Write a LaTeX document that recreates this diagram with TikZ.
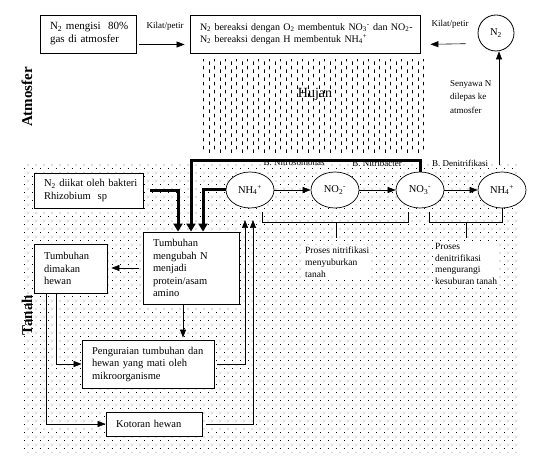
\documentclass[tikz,border=0pt]{standalone}
\usepackage{fontspec}
\setmainfont{Liberation Serif}
\usetikzlibrary{arrows.meta,patterns,shapes.geometric,calc}
\pgfdeclarepatternformonly{sdots}{\pgfqpoint{0pt}{0pt}}{\pgfqpoint{8pt}{8pt}}{\pgfqpoint{8pt}{8pt}}{%
 \pgfpathrectangle{\pgfqpoint{0pt}{0pt}}{\pgfqpoint{1pt}{1pt}}%
 \pgfpathrectangle{\pgfqpoint{4pt}{4pt}}{\pgfqpoint{1pt}{1pt}}%
 \pgfusepath{fill}}
\pgfdeclarepatternformonly{vdash}{\pgfqpoint{0pt}{0pt}}{\pgfqpoint{11pt}{8pt}}{\pgfqpoint{11pt}{8pt}}{%
 \pgfpathrectangle{\pgfqpoint{0pt}{0pt}}{\pgfqpoint{1pt}{4pt}}%
 \pgfpathrectangle{\pgfqpoint{5.5pt}{4pt}}{\pgfqpoint{1pt}{4pt}}%
 \pgfusepath{fill}}
\tikzset{
 box/.style={draw, line width=0.8pt, fill=white, inner xsep=10pt, inner ysep=2pt, align=left,
   font=\fontsize{10.5}{12.5}\selectfont},
 ell/.style={draw, ellipse, line width=0.7pt, minimum width=48pt, minimum height=36pt, fill=white,
   inner sep=0pt, font=\fontsize{10.5}{12}\selectfont},
 arr/.style={-{Triangle[length=8pt,width=6pt]}, line width=0.6pt},
 heavy/.style={-{Triangle[length=8pt,width=9pt]}, line width=3pt},
 thin/.style={line width=0.6pt},
 lbl/.style={inner sep=0pt, font=\fontsize{9}{11}\selectfont},
 note/.style={inner sep=2pt, align=left, fill=white, font=\fontsize{9.5}{11.7}\selectfont},
 side/.style={rotate=90, inner sep=0pt, font=\fontsize{15}{15}\selectfont\bfseries}
}
\begin{document}
\begin{tikzpicture}[x=1pt,y=-1pt]
\useasboundingbox (0,0) rectangle (538,457);
% backgrounds
\fill[pattern=sdots] (24,162) rectangle (517,452);
\fill[pattern=vdash] (202,60) rectangle (426,153);
\node[inner sep=0pt, font=\fontsize{14}{14}\selectfont] (hujan) at (315,94) {Hujan};
\node[side] (atm) at (27,97) {Atmosfer};
\node[side] (tanah) at (27,315) {Tanah};

% top row
\node[box, font=\fontsize{11}{13}\selectfont, text width=76pt, minimum height=38pt] (b1) at (88,34)
  {\mbox{N\textsubscript{2} mengisi \ 80\%}\\gas di atmosfer};
\node[box, font=\fontsize{10}{12}\selectfont, text width=210pt, minimum height=38pt] (b2) at (305,34)
  {\mbox{N\textsubscript{2} bereaksi dengan O\textsubscript{2} membentuk NO\textsubscript{3}\textsuperscript{-} dan NO\textsubscript{2}-}\\\mbox{N\textsubscript{2} bereaksi dengan H membentuk NH\textsubscript{4}\textsuperscript{+}}};
\node[draw, circle, line width=0.8pt, minimum size=36pt, inner sep=0pt, font=\fontsize{10.5}{12}\selectfont] (n2) at (496,33) {N\textsubscript{2}};
\draw[arr, shorten <=3pt, shorten >=5pt] ([yshift=-10.5pt]b1.east) -- ([yshift=-10.5pt]b2.west);
\draw[arr, shorten <=12pt, shorten >=10pt] ([yshift=-10.5pt]n2.west) -- ([yshift=-10.5pt]b2.east);
\node[lbl] (k1) at (165,26) {Kilat/petir};
\node[lbl] (k2) at (450,24) {Kilat/petir};
\node[lbl, align=left, anchor=north west, font=\fontsize{9}{13.5}\selectfont] (sen) at (450,80) {Senyawa N\\dilepas ke\\atmosfer};

% soil boxes
\node[box, text width=89pt, minimum height=35pt] (rh) at (88.5,190.5)
  {\mbox{N\textsubscript{2} diikat oleh bakteri}\\\mbox{Rhizobium\ \ sp}};
\node[box, text width=76pt, minimum height=72pt] (tb) at (191,268)
  {Tumbuhan\\\mbox{mengubah N}\\menjadi\\\mbox{protein/asam}\\amino};
\node[box, text width=53pt, minimum height=49pt] (dm) at (70.5,268.5)
  {Tumbuhan\\dimakan\\hewan};
\node[box, text width=112pt, minimum height=48pt] (pg) at (148,364)
  {\mbox{Penguraian tumbuhan dan}\\\mbox{hewan yang mati oleh}\\mikroorganisme};
\node[box, text width=76pt, minimum height=24pt] (kt) at (154,424)
  {\mbox{Kotoran hewan}};

% ellipses
\node[ell] (e1) at (250,190) {NH\textsubscript{4}\textsuperscript{+}};
\node[ell] (e2) at (335,190) {NO\textsubscript{2}\textsuperscript{-}};
\node[ell] (e3) at (420,190) {NO\textsubscript{3}\textsuperscript{-}};
\node[ell] (e4) at (502,190) {NH\textsubscript{4}\textsuperscript{+}};
\draw[arr] (e1.east) -- (e2.west);
\draw[arr] (e2.east) -- (e3.west);
\draw[arr] (e3.east) -- (e4.west);
\node[lbl] (l1) at (294,163) {B. Nitrosomonas};
\node[lbl] (l2) at (377,163) {B. Nitribacter};
\node[lbl] (l3) at (460,163) {B. Denitrifikasi};

% brackets
\draw[thin] (262,212) -- (262,222) -- (408,222) -- (408,212);
\draw[thin] (336,222) -- (336,238);
\draw[thin] (429,212) -- (429,222) -- (502,222) -- (e4.south);
\draw[thin] (466,222) -- (466,238);
\node[note, anchor=north west] (p1) at (303,245) {Proses nitrifikasi\\menyuburkan\\tanah};
\node[note, anchor=north west] (p2) at (433,241) {Proses\\denitrifikasi\\mengurangi\\kesuburan tanah};

% N released to atmosphere
\coordinate (s0) at (499,165);
\draw[arr] (s0) -- (s0 |- n2.south);

% heavy arrows into plant box
\draw[heavy] (e3.north) -- ++(0,-11) -| (tb.north);
\draw[heavy] (e1.west) -| ([xshift=12pt]tb.north);
\draw[heavy] ([xshift=7pt]rh.east) -| ([xshift=-13pt]tb.north);

% thin connectors
\draw[arr, shorten <=4pt, shorten >=4pt] (tb.west) -- (dm.east |- tb.west);
\draw[arr, shorten >=2pt] ([xshift=-8pt]tb.south) -- ([xshift=-8pt]tb.south |- pg.north);
\draw[arr] ([xshift=-14.5pt]dm.south) |- (pg.west);
\draw[arr] ([xshift=-24.5pt]dm.south) |- (kt.west);
\draw[arr] ([xshift=3pt]pg.east) -| (245,220);
\draw[arr] ([xshift=4pt]kt.east) -| (253,220);
\end{tikzpicture}
\end{document}
